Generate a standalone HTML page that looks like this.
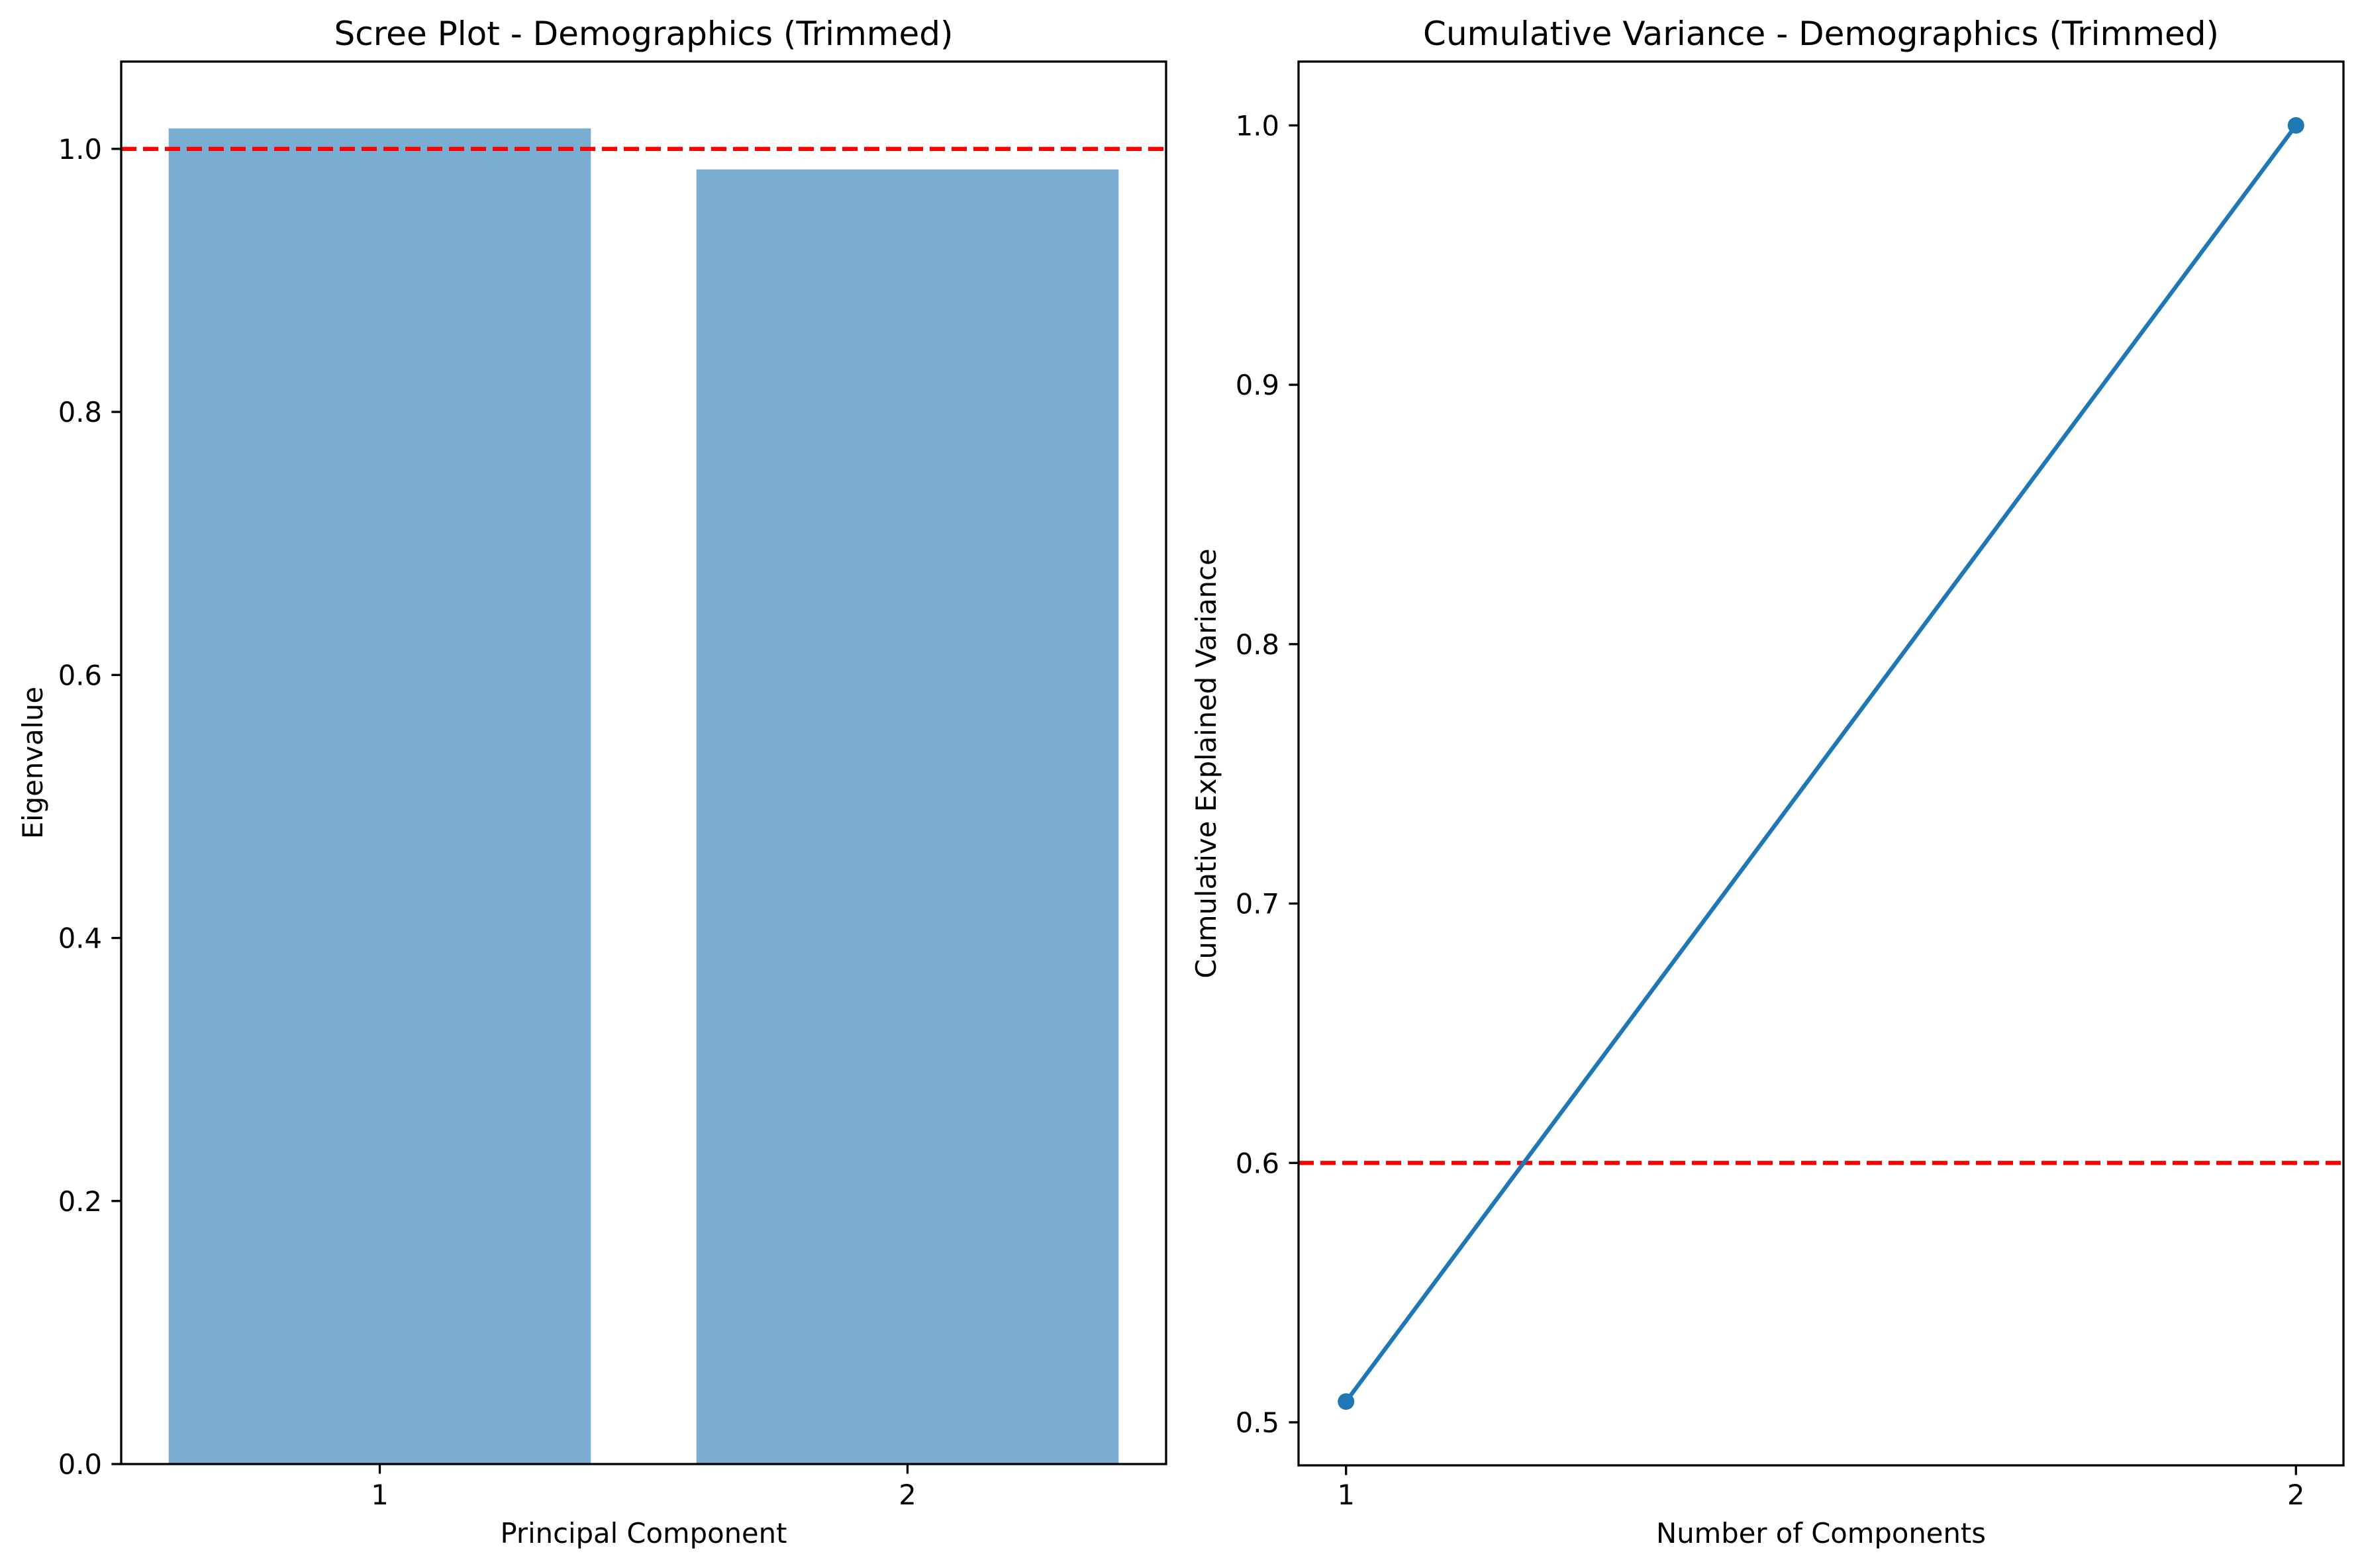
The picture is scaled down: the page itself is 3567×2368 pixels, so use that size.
<!DOCTYPE html>
<html><head><meta charset="utf-8"><style>
html,body{margin:0;padding:0;background:#fff;}
svg{display:block;font-family:"DejaVu Sans","Liberation Sans",sans-serif;}
</style></head><body>
<svg id="fig" width="3567" height="2368" viewBox="0 0 3567 2368" xmlns="http://www.w3.org/2000/svg"></svg>
<script>
const screeCategories = [1, 2];
const eigenvalues = [1.0156, 0.9844];
const screeTicks = [0.0, 0.2, 0.4, 0.6, 0.8, 1.0];
const screeTickLabels = ["0.0", "0.2", "0.4", "0.6", "0.8", "1.0"];
const kaiserThreshold = [1.0];
const cumComponents = [1, 2];
const cumVariance = [0.508, 1.0];
const cumTicks = [0.5, 0.6, 0.7, 0.8, 0.9, 1.0];
const cumTickLabels = ["0.5", "0.6", "0.7", "0.8", "0.9", "1.0"];
const varThreshold = [0.6];

const NS = "http://www.w3.org/2000/svg";
const svg = document.getElementById('fig');
const FS = 41.7, TFS = 50, LW = 6.25, AW = 3.3, TL = 14.6;
function mk(tag, attrs, parent, text) {
  const e = document.createElementNS(NS, tag);
  for (const k in attrs) e.setAttribute(k, attrs[k]);
  if (text !== undefined) e.textContent = text;
  (parent || svg).appendChild(e);
  return e;
}

// ---- Left: scree plot ----
const L = {x0: 183, x1: 1761, y0: 93, y1: 2211};
const lxMin = 0.51, lxMax = 2.49, lyMin = 0, lyMax = Math.max(...eigenvalues) * 1.05;
const lx = v => L.x0 + (v - lxMin) / (lxMax - lxMin) * (L.x1 - L.x0);
const ly = v => L.y1 - (v - lyMin) / (lyMax - lyMin) * (L.y1 - L.y0);

const gL = mk('g', {});


screeCategories.forEach((c, i) => {
  const r = mk('rect', {x: lx(c - 0.4), y: ly(eigenvalues[i]), width: lx(c + 0.4) - lx(c - 0.4), height: ly(0) - ly(eigenvalues[i]), fill: '#1f77b4', 'fill-opacity': 0.6}, gL);
  
  
});
kaiserThreshold.forEach(t => {
  const l = mk('line', {x1: L.x0, x2: L.x1, y1: ly(t), y2: ly(t), stroke: '#ff0000', 'stroke-width': LW, 'stroke-dasharray': '23 10'}, gL);
  
  
});
const fL = mk('rect', {x: L.x0, y: L.y0, width: L.x1 - L.x0, height: L.y1 - L.y0, fill: 'none', stroke: '#000', 'stroke-width': AW}, gL);


screeTicks.forEach((t, i) => {
  mk('line', {x1: L.x0 - TL, x2: L.x0, y1: ly(t), y2: ly(t), stroke: '#000', 'stroke-width': AW}, gL);
  const tx = mk('text', {x: L.x0 - 29, y: ly(t) + 15, 'text-anchor': 'end', 'font-size': FS}, gL, screeTickLabels[i]);
  
  
});
screeCategories.forEach(c => {
  mk('line', {x1: lx(c), x2: lx(c), y1: L.y1, y2: L.y1 + TL, stroke: '#000', 'stroke-width': AW}, gL);
  const tx = mk('text', {x: lx(c), y: 2272, 'text-anchor': 'middle', 'font-size': FS}, gL, String(c));
  
  
});
let t1 = mk('text', {x: (L.x0 + L.x1) / 2, y: 68, 'text-anchor': 'middle', 'font-size': TFS}, gL, 'Scree Plot - Demographics (Trimmed)');
 
let xl1 = mk('text', {x: (L.x0 + L.x1) / 2, y: 2330, 'text-anchor': 'middle', 'font-size': FS}, gL, 'Principal Component');
 
let yl1 = mk('text', {x: 0, y: 0, 'text-anchor': 'middle', 'font-size': FS, transform: `translate(64,${(L.y0 + L.y1) / 2}) rotate(-90)`}, gL, 'Eigenvalue');
 

// ---- Right: cumulative variance ----
const R = {x0: 1961, x1: 3539, y0: 93, y1: 2213};
const rxMin = 0.95, rxMax = 2.05;
const rr = Math.max(...cumVariance) - Math.min(...cumVariance);
const ryMin = Math.min(...cumVariance) - rr * 0.05, ryMax = Math.max(...cumVariance) + rr * 0.05;
const rx = v => R.x0 + (v - rxMin) / (rxMax - rxMin) * (R.x1 - R.x0);
const ry = v => R.y1 - (v - ryMin) / (ryMax - ryMin) * (R.y1 - R.y0);

const gR = mk('g', {});


varThreshold.forEach(t => {
  const l = mk('line', {x1: R.x0, x2: R.x1, y1: ry(t), y2: ry(t), stroke: '#ff0000', 'stroke-width': LW, 'stroke-dasharray': '23 10'}, gR);
  
  
});
const pl = mk('polyline', {points: cumComponents.map((c, i) => rx(c) + ',' + ry(cumVariance[i])).join(' '), fill: 'none', stroke: '#1f77b4', 'stroke-width': LW}, gR);


cumComponents.forEach((c, i) => {
  const p = mk('circle', {cx: rx(c), cy: ry(cumVariance[i]), r: 12.5, fill: '#1f77b4'}, gR);
  
  
});
const fR = mk('rect', {x: R.x0, y: R.y0, width: R.x1 - R.x0, height: R.y1 - R.y0, fill: 'none', stroke: '#000', 'stroke-width': AW}, gR);


cumTicks.forEach((t, i) => {
  mk('line', {x1: R.x0 - TL, x2: R.x0, y1: ry(t), y2: ry(t), stroke: '#000', 'stroke-width': AW}, gR);
  const tx = mk('text', {x: R.x0 - 29, y: ry(t) + 15, 'text-anchor': 'end', 'font-size': FS}, gR, cumTickLabels[i]);
  
  
});
cumComponents.forEach(c => {
  mk('line', {x1: rx(c), x2: rx(c), y1: R.y1, y2: R.y1 + TL, stroke: '#000', 'stroke-width': AW}, gR);
  const tx = mk('text', {x: rx(c), y: 2272, 'text-anchor': 'middle', 'font-size': FS}, gR, String(c));
  
  
});
let t2 = mk('text', {x: (R.x0 + R.x1) / 2, y: 68, 'text-anchor': 'middle', 'font-size': TFS}, gR, 'Cumulative Variance - Demographics (Trimmed)');
 
let xl2 = mk('text', {x: (R.x0 + R.x1) / 2, y: 2330, 'text-anchor': 'middle', 'font-size': FS}, gR, 'Number of Components');
 
let yl2 = mk('text', {x: 0, y: 0, 'text-anchor': 'middle', 'font-size': FS, transform: `translate(1836,${(R.y0 + R.y1) / 2}) rotate(-90)`}, gR, 'Cumulative Explained Variance');
 
</script>
</body></html>
